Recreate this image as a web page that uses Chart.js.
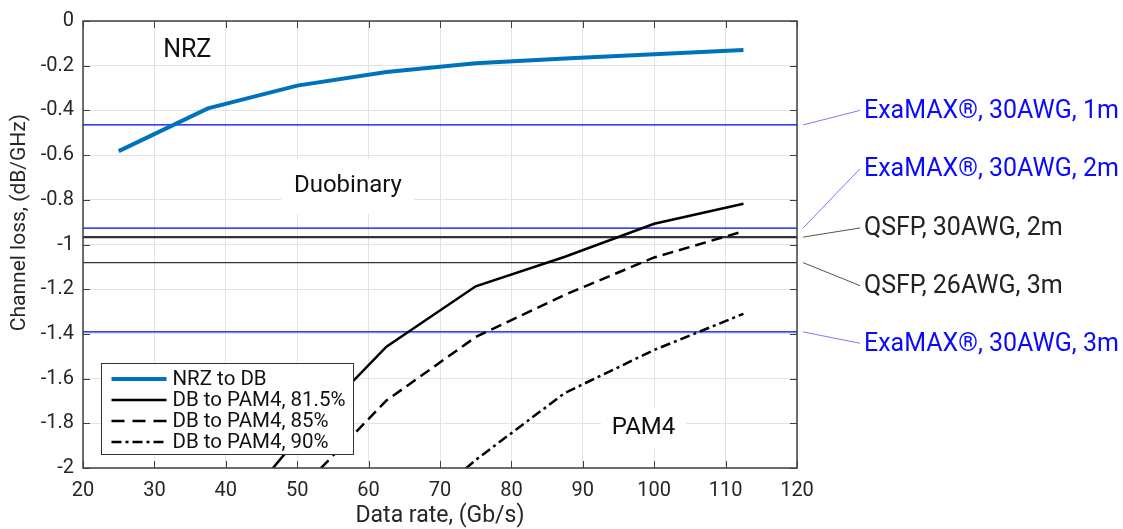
<!DOCTYPE html>
<html>
<head>
<meta charset="utf-8">
<script src="https://cdn.jsdelivr.net/npm/chart.js@4/dist/chart.umd.min.js"></script>
<style>
  html, body { margin: 0; padding: 0; background: #fff; }
</style>
</head>
<body>
<canvas id="chart" width="1123" height="529"></canvas>
<script>
// data rate (Gb/s) and channel loss (dB/GHz)
const rates = [25, 37.5, 50, 62.5, 75, 87.5, 100, 112.5];
const nrzToDb = [-0.582, -0.391, -0.289, -0.228, -0.189, -0.168, -0.149, -0.130];
const dbToPam4_815 = [null, -2.35, -1.87, -1.457, -1.187, -1.055, -0.907, -0.818];
const dbToPam4_85 = [null, null, -2.11, -1.698, -1.414, -1.225, -1.058, -0.941];
const dbToPam4_90 = [null, null, null, -2.31, -1.964, -1.664, -1.472, -1.31];

const cableNames = ['ExaMAX®, 30AWG, 1m', 'ExaMAX®, 30AWG, 2m', 'QSFP, 30AWG, 2m', 'QSFP, 26AWG, 3m', 'ExaMAX®, 30AWG, 3m'];
const cableLoss = [-0.465, -0.927, -0.967, -1.081, -1.391];

const xRange = [20, 120];
const yRange = [-2, 0];

// where the cable labels sit (on the y scale) and their colours
const cableLabelAt = [-0.400, -0.661, -0.926, -1.184, -1.442];
const cableColor = ['#0a0aff', '#0a0aff', '#222222', '#222222', '#0a0aff'];
const cableLineColor = ['#0000f0', '#0000f0', '#333333', '#333333', '#0000f0'];
const leaderColor = ['#7a7aee', '#7a7aee', '#555555', '#555555', '#7a7aee'];
const cableLineWidth = [1.3, 1.3, 2.2, 1.2, 1.3];

const regionNotes = [
  { text: 'NRZ', x: 34.6, y: -0.135, size: 25, box: false },
  { text: 'Duobinary', x: 57.1, y: -0.740, size: 24, box: true, w: 133, h: 55 },
  { text: 'PAM4', x: 98.5, y: -1.821, size: 24, box: true, w: 85, h: 40 }
];

const FONT = 'Roboto, "Liberation Sans", Arial, sans-serif';
const AXIS = '#404040';

const pts = (ys) => rates.map((r, i) => ({ x: r, y: ys[i] }));

const datasets = [
  { label: 'NRZ to DB', data: pts(nrzToDb), borderColor: '#0072BD', borderWidth: 4, borderDash: [] },
  { label: 'DB to PAM4, 81.5%', data: pts(dbToPam4_815), borderColor: '#000', borderWidth: 2.5, borderDash: [] },
  { label: 'DB to PAM4, 85%', data: pts(dbToPam4_85), borderColor: '#000', borderWidth: 2.5, borderDash: [11, 6] },
  { label: 'DB to PAM4, 90%', data: pts(dbToPam4_90), borderColor: '#000', borderWidth: 2.5, borderDash: [10, 4, 3, 4] }
];
const legendCount = datasets.length;

cableLoss.forEach((v, i) => {
  datasets.push({
    label: cableNames[i],
    data: [{ x: xRange[0], y: v }, { x: xRange[1], y: v }],
    borderColor: cableLineColor[i],
    borderWidth: cableLineWidth[i],
    borderDash: []
  });
});

const decor = {
  id: 'decor',
  beforeDatasetsDraw(chart) {
    const { ctx, scales: { x, y } } = chart;
    regionNotes.forEach(n => {
      const px = x.getPixelForValue(n.x), py = y.getPixelForValue(n.y);
      ctx.save();
      if (n.box) {
        ctx.fillStyle = '#fff';
        ctx.fillRect(px - n.w / 2, py - n.h / 2, n.w, n.h);
      }
      ctx.font = n.size + 'px ' + FONT;
      ctx.fillStyle = '#111';
      ctx.textAlign = 'center';
      ctx.textBaseline = 'middle';
      ctx.fillText(n.text, px, py);
      ctx.restore();
    });
  },
  afterDraw(chart) {
    const { ctx, chartArea: a, scales: { x, y } } = chart;
    ctx.save();
    // inward ticks on all four sides
    ctx.strokeStyle = AXIS;
    ctx.lineWidth = 1;
    ctx.beginPath();
    x.ticks.forEach(t => {
      const px = Math.round(x.getPixelForValue(t.value)) + 0.5;
      ctx.moveTo(px, a.bottom); ctx.lineTo(px, a.bottom - 7);
      ctx.moveTo(px, a.top); ctx.lineTo(px, a.top + 7);
    });
    y.ticks.forEach(t => {
      const py = Math.round(y.getPixelForValue(t.value)) + 0.5;
      ctx.moveTo(a.left, py); ctx.lineTo(a.left + 7, py);
      ctx.moveTo(a.right, py); ctx.lineTo(a.right - 7, py);
    });
    ctx.stroke();
    ctx.lineWidth = 1.5;
    ctx.strokeRect(a.left, a.top, a.right - a.left, a.bottom - a.top);

    // y axis title (sits a little above the axis middle in the original)
    ctx.save();
    ctx.translate(20, y.getPixelForValue(-0.902));
    ctx.rotate(-Math.PI / 2);
    ctx.font = '21px ' + FONT;
    ctx.fillStyle = '#262626';
    ctx.textAlign = 'center';
    ctx.textBaseline = 'middle';
    ctx.fillText('Channel loss, (dB/GHz)', 0, 0);
    ctx.restore();

    // legend box
    const lx = a.left + 18.5, ly = a.top + 342.5, lw = 252, lh = 91;
    ctx.fillStyle = '#fff';
    ctx.fillRect(lx, ly, lw, lh);
    ctx.strokeStyle = '#333';
    ctx.lineWidth = 1;
    ctx.strokeRect(lx, ly, lw, lh);
    ctx.font = '20.5px ' + FONT;
    ctx.textBaseline = 'middle';
    ctx.textAlign = 'left';
    for (let i = 0; i < legendCount; i++) {
      const d = chart.data.datasets[i];
      const ry = ly + 15.5 + 21 * i;
      ctx.strokeStyle = d.borderColor;
      ctx.lineWidth = d.borderWidth;
      ctx.setLineDash(i === 2 ? [13, 8] : d.borderDash);
      ctx.beginPath();
      ctx.moveTo(lx + 10, ry); ctx.lineTo(lx + 65, ry);
      ctx.stroke();
      ctx.setLineDash([]);
      ctx.fillStyle = '#111';
      ctx.fillText(d.label, lx + 71, ry + 1);
    }

    // cable labels with leader lines, right of the axes
    ctx.font = '25px ' + FONT;
    cableLoss.forEach((v, i) => {
      const y0 = y.getPixelForValue(v), y1 = y.getPixelForValue(cableLabelAt[i]);
      ctx.strokeStyle = leaderColor[i];
      ctx.lineWidth = 1;
      ctx.beginPath();
      ctx.moveTo(a.right + 6, y0);
      ctx.lineTo(a.right + 63, y1);
      ctx.stroke();
      ctx.fillStyle = cableColor[i];
      ctx.fillText(cableNames[i], a.right + 67, y1 + 1);
    });
    ctx.restore();
  }
};

new Chart(document.getElementById('chart'), {
  type: 'line',
  data: { datasets },
  options: {
    responsive: false,
    animation: false,
    layout: { padding: { left: 0, right: 326, top: 16, bottom: 0 } },
    elements: { point: { radius: 0 }, line: { tension: 0 } },
    plugins: { legend: { display: false }, tooltip: { enabled: false } },
    scales: {
      x: {
        type: 'linear',
        min: xRange[0], max: xRange[1],
        afterFit: s => { s.height = 61; },
        grid: { color: '#e3e3e3', lineWidth: 1, drawTicks: false },
        border: { display: false },
        ticks: { stepSize: 10, padding: 11, color: '#262626', font: { family: FONT, size: 20 } },
        title: { display: true, text: 'Data rate, (Gb/s)', color: '#262626', padding: 0, font: { family: FONT, size: 23, lineHeight: 1.15 } }
      },
      y: {
        min: yRange[0], max: yRange[1],
        afterFit: s => { s.width = 83; },
        grid: { color: '#e3e3e3', lineWidth: 1, drawTicks: false },
        border: { display: false },
        ticks: {
          stepSize: 0.2, padding: 9, color: '#262626', font: { family: FONT, size: 20 },
          callback: v => String(Math.round(v * 10) / 10)
        },
        title: { display: false }
      }
    }
  },
  plugins: [decor]
});
</script>
</body>
</html>
